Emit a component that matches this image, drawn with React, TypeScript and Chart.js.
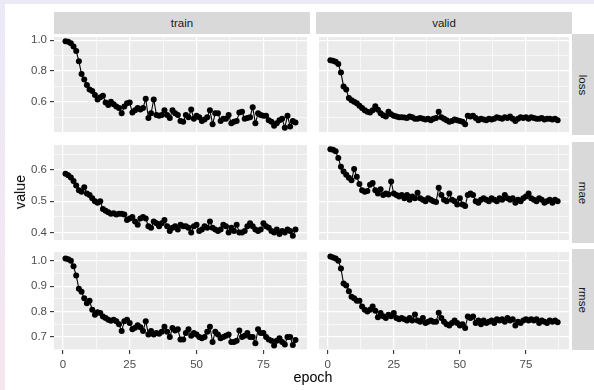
import React, { useEffect, useRef } from "react";
import { Chart, registerables } from "chart.js";
Chart.register(...registerables);

const epochs = [
  1, 2, 3, 4, 5, 6, 7, 8, 9, 10, 11, 12, 13, 14, 15, 16, 17, 18, 19, 20,
  21, 22, 23, 24, 25, 26, 27, 28, 29, 30, 31, 32, 33, 34, 35, 36, 37, 38, 39, 40,
  41, 42, 43, 44, 45, 46, 47, 48, 49, 50, 51, 52, 53, 54, 55, 56, 57, 58, 59, 60,
  61, 62, 63, 64, 65, 66, 67, 68, 69, 70, 71, 72, 73, 74, 75, 76, 77, 78, 79, 80,
  81, 82, 83, 84, 85, 86, 87,
];

const sets = ["train", "valid"];
const metrics = ["loss", "mae", "rmse"];

const trainLoss = [
  0.993, 0.99, 0.98, 0.96, 0.93, 0.864, 0.78, 0.745, 0.71, 0.68, 0.67, 0.645, 0.615, 0.63, 0.64, 0.595, 0.58, 0.6, 0.585, 0.57,
  0.56, 0.525, 0.57, 0.59, 0.595, 0.53, 0.545, 0.56, 0.55, 0.56, 0.62, 0.495, 0.525, 0.615, 0.515, 0.51, 0.515, 0.545, 0.515, 0.495,
  0.545, 0.525, 0.515, 0.475, 0.47, 0.515, 0.5, 0.55, 0.49, 0.51, 0.5, 0.475, 0.485, 0.5, 0.545, 0.455, 0.525, 0.525, 0.475, 0.49,
  0.49, 0.515, 0.46, 0.47, 0.475, 0.53, 0.535, 0.49, 0.495, 0.5, 0.565, 0.46, 0.525, 0.515, 0.51, 0.51, 0.48, 0.47, 0.445, 0.46,
  0.48, 0.49, 0.432, 0.51, 0.44, 0.475, 0.465,
];
const validLoss = [
  0.87, 0.867, 0.86, 0.845, 0.79, 0.7, 0.68, 0.625, 0.61, 0.6, 0.59, 0.575, 0.56, 0.545, 0.535, 0.53, 0.545, 0.572, 0.548, 0.525,
  0.512, 0.505, 0.535, 0.52, 0.51, 0.505, 0.5, 0.5, 0.498, 0.495, 0.505, 0.5, 0.49, 0.49, 0.495, 0.49, 0.485, 0.49, 0.48, 0.49,
  0.495, 0.535, 0.5, 0.49, 0.48, 0.47, 0.475, 0.485, 0.48, 0.475, 0.47, 0.455, 0.51, 0.505, 0.51, 0.495, 0.48, 0.49, 0.485, 0.48,
  0.49, 0.485, 0.49, 0.5, 0.495, 0.49, 0.5, 0.495, 0.505, 0.49, 0.475, 0.49, 0.5, 0.495, 0.5, 0.49, 0.5, 0.495, 0.49, 0.49,
  0.495, 0.485, 0.49, 0.49, 0.485, 0.49, 0.48,
];
const trainMae = [
  0.588, 0.583, 0.576, 0.565, 0.55, 0.535, 0.53, 0.545, 0.525, 0.52, 0.51, 0.5, 0.495, 0.5, 0.475, 0.47, 0.465, 0.46, 0.462, 0.458,
  0.46, 0.46, 0.458, 0.44, 0.445, 0.45, 0.435, 0.425, 0.445, 0.45, 0.445, 0.42, 0.415, 0.435, 0.43, 0.42, 0.43, 0.44, 0.42, 0.405,
  0.415, 0.42, 0.41, 0.425, 0.42, 0.42, 0.415, 0.4, 0.42, 0.425, 0.405, 0.41, 0.42, 0.415, 0.435, 0.415, 0.41, 0.405, 0.41, 0.425,
  0.42, 0.4, 0.415, 0.405, 0.425, 0.4, 0.4, 0.405, 0.42, 0.43, 0.42, 0.41, 0.405, 0.41, 0.43, 0.42, 0.415, 0.405, 0.4, 0.41,
  0.395, 0.405, 0.4, 0.41, 0.405, 0.39, 0.41,
];
const validMae = [
  0.666, 0.665, 0.66, 0.638, 0.61, 0.595, 0.585, 0.575, 0.567, 0.603, 0.578, 0.555, 0.535, 0.53, 0.533, 0.553, 0.558, 0.535, 0.525, 0.538,
  0.52, 0.525, 0.522, 0.563, 0.525, 0.52, 0.515, 0.52, 0.51, 0.52, 0.505, 0.515, 0.51, 0.527, 0.51, 0.505, 0.5, 0.51, 0.505, 0.5,
  0.498, 0.543, 0.52, 0.505, 0.5, 0.525, 0.505, 0.5, 0.49, 0.51, 0.49, 0.485, 0.52, 0.525, 0.52, 0.5, 0.495, 0.505, 0.51, 0.505,
  0.5, 0.51, 0.505, 0.5, 0.51, 0.505, 0.52, 0.51, 0.505, 0.51, 0.495, 0.505, 0.5, 0.51, 0.515, 0.525, 0.51, 0.505, 0.5, 0.51,
  0.505, 0.495, 0.5, 0.505, 0.495, 0.505, 0.5,
];
const trainRmse = [
  1.009, 1.006, 1.0, 0.978, 0.942, 0.89, 0.878, 0.852, 0.833, 0.842, 0.807, 0.787, 0.797, 0.794, 0.78, 0.775, 0.768, 0.764, 0.768, 0.762,
  0.75, 0.723, 0.762, 0.768, 0.755, 0.73, 0.736, 0.746, 0.738, 0.723, 0.762, 0.71, 0.723, 0.71, 0.715, 0.712, 0.72, 0.74, 0.72, 0.7,
  0.735, 0.725, 0.73, 0.69, 0.69, 0.715, 0.73, 0.705, 0.715, 0.71, 0.7, 0.695, 0.7, 0.72, 0.74, 0.68, 0.72, 0.71, 0.695, 0.7,
  0.705, 0.71, 0.68, 0.68, 0.685, 0.725, 0.7, 0.705, 0.715, 0.7, 0.7, 0.675, 0.73, 0.715, 0.715, 0.7, 0.69, 0.685, 0.666, 0.685,
  0.695, 0.68, 0.67, 0.7, 0.7, 0.668, 0.688,
];
const validRmse = [
  1.017, 1.013, 1.009, 1.0, 0.97, 0.91, 0.903, 0.88, 0.858, 0.852, 0.842, 0.842, 0.82, 0.807, 0.8, 0.807, 0.82, 0.803, 0.777, 0.794,
  0.781, 0.775, 0.787, 0.781, 0.794, 0.775, 0.77, 0.775, 0.77, 0.765, 0.775, 0.765, 0.788, 0.765, 0.76, 0.775, 0.755, 0.76, 0.765, 0.76,
  0.76, 0.795, 0.775, 0.76, 0.75, 0.745, 0.755, 0.765, 0.755, 0.745, 0.75, 0.735, 0.78, 0.775, 0.78, 0.755, 0.765, 0.75, 0.765, 0.755,
  0.76, 0.765, 0.755, 0.77, 0.765, 0.77, 0.76, 0.775, 0.765, 0.77, 0.745, 0.76, 0.755, 0.765, 0.77, 0.765, 0.77, 0.765, 0.77, 0.755,
  0.765, 0.76, 0.755, 0.765, 0.76, 0.765, 0.758,
];

const xMajorTicks = [0, 25, 50, 75];
const xMinorTicks = [12.5, 37.5, 62.5, 87.5];
const yMajorTicks = [
  [0.6, 0.8, 1.0],
  [0.4, 0.5, 0.6],
  [0.7, 0.8, 0.9, 1.0],
];
const yMinorTicks = [
  [0.5, 0.7, 0.9],
  [0.45, 0.55, 0.65],
  [0.65, 0.75, 0.85, 0.95],
];

const seriesGrid = [
  [trainLoss, validLoss],
  [trainMae, validMae],
  [trainRmse, validRmse],
];

// layout (pixels)
const COL_X = [54, 316];
const ROW_Y = [34, 142, 249];
const PANEL_W = 256;
const PANEL_H = 101;
const LEFT_M = 54;
const BOTTOM_M = 30;
const FONT = "'Liberation Sans', Arial, Helvetica, sans-serif";

function expand(vals: number[]) {
  const lo = Math.min(...vals);
  const hi = Math.max(...vals);
  const d = (hi - lo) * 0.05;
  return [lo - d, hi + d];
}

const panelBg = {
  id: "panelBg",
  beforeDraw(chart: any) {
    const { ctx, chartArea } = chart;
    ctx.save();
    ctx.fillStyle = "#EBEBEB";
    ctx.fillRect(chartArea.left, chartArea.top, chartArea.right - chartArea.left, chartArea.bottom - chartArea.top);
    ctx.restore();
  },
};

function Panel({ r, c }: { r: number; c: number }) {
  const ref = useRef<HTMLCanvasElement | null>(null);
  const left = c === 0;
  const bottom = r === 2;
  const w = PANEL_W + (left ? LEFT_M : 0);
  const h = PANEL_H + (bottom ? BOTTOM_M : 0);

  useEffect(() => {
    const values = seriesGrid[r][c];
    const [xMin, xMax] = expand(epochs);
    const [yMin, yMax] = expand([...seriesGrid[r][0], ...seriesGrid[r][1]]);
    const yMaj = yMajorTicks[r];
    const yAll = [...yMaj, ...yMinorTicks[r]].filter((v) => v >= yMin && v <= yMax).sort((a, b) => a - b);
    const xAll = [...xMajorTicks, ...xMinorTicks].filter((v) => v >= xMin && v <= xMax).sort((a, b) => a - b);
    const isMajX = (v: number) => xMajorTicks.includes(v);
    const isMajY = (v: number) => yMaj.some((m) => Math.abs(m - v) < 1e-9);

    const chart = new Chart(ref.current as HTMLCanvasElement, {
      type: "line",
      data: {
        datasets: [
          {
            data: epochs.map((e, i) => ({ x: e, y: values[i] })),
            borderColor: "#000000",
            backgroundColor: "#000000",
            borderWidth: 1.1,
            pointRadius: 3,
            pointBorderWidth: 0,
            pointHoverRadius: 0,
            tension: 0,
            clip: false as any,
          },
        ],
      },
      options: {
        animation: false,
        responsive: false,
        maintainAspectRatio: false,
        events: [],
        layout: { padding: 0 },
        plugins: { legend: { display: false }, tooltip: { enabled: false } },
        scales: {
          x: {
            type: "linear",
            position: "bottom",
            min: xMin,
            max: xMax,
            bounds: "data",
            afterBuildTicks: (s: any) => {
              s.ticks = xAll.map((v) => ({ value: v }));
            },
            afterFit: (s: any) => {
              s.height = bottom ? BOTTOM_M : 0;
              s.paddingLeft = 0;
              s.paddingRight = 0;
              s.paddingTop = 0;
              s.paddingBottom = 0;
            },
            border: { display: false },
            grid: {
              color: "#FFFFFF",
              lineWidth: (ctx: any) => (isMajX(ctx.tick.value) ? 1.2 : 0.6),
              drawTicks: bottom,
              tickLength: 4,
              tickWidth: 1.1,
              tickColor: (ctx: any) => (isMajX(ctx.tick.value) ? "#333333" : "rgba(0,0,0,0)"),
            },
            ticks: {
              display: bottom,
              autoSkip: false,
              maxRotation: 0,
              padding: 4,
              color: "#4D4D4D",
              font: { family: FONT, size: 11.5 },
              callback: (v: any) => (isMajX(Number(v)) ? String(v) : ""),
            },
          },
          y: {
            type: "linear",
            position: "left",
            min: yMin,
            max: yMax,
            bounds: "data",
            afterBuildTicks: (s: any) => {
              s.ticks = yAll.map((v) => ({ value: v }));
            },
            afterFit: (s: any) => {
              s.width = left ? LEFT_M : 0;
              s.paddingLeft = 0;
              s.paddingRight = 0;
              s.paddingTop = 0;
              s.paddingBottom = 0;
            },
            border: { display: false },
            grid: {
              color: "#FFFFFF",
              lineWidth: (ctx: any) => (isMajY(ctx.tick.value) ? 1.2 : 0.6),
              drawTicks: left,
              tickLength: 4,
              tickWidth: 1.1,
              tickColor: (ctx: any) => (isMajY(ctx.tick.value) ? "#333333" : "rgba(0,0,0,0)"),
            },
            ticks: {
              display: left,
              autoSkip: false,
              padding: 3,
              color: "#4D4D4D",
              font: { family: FONT, size: 11.5 },
              callback: (v: any) => (isMajY(Number(v)) ? Number(v).toFixed(1) : ""),
            },
          },
        },
      } as any,
      plugins: [panelBg],
    });
    return () => chart.destroy();
  }, [r, c]);

  return (
    <canvas
      ref={ref}
      width={w}
      height={h}
      style={{
        position: "absolute",
        left: COL_X[c] - (left ? LEFT_M : 0),
        top: ROW_Y[r],
        width: w,
        height: h,
        display: "block",
      }}
    />
  );
}

export default function App() {
  const stripFont: React.CSSProperties = {
    position: "absolute",
    background: "#D9D9D9",
    color: "#1A1A1A",
    fontFamily: FONT,
    fontSize: 11.5,
    display: "flex",
    alignItems: "center",
    justifyContent: "center",
    overflow: "hidden",
  };
  return (
    <div style={{ position: "relative", width: 594, height: 390, overflow: "hidden" }}>
      <style>{`html,body{margin:0;padding:0;} body{background:linear-gradient(180deg,#ECE9F7 0%,#F0E8F4 50%,#F6E6EE 100%);}`}</style>
      <div style={{ position: "absolute", left: 5, top: 4, width: 589, height: 386, background: "#FFFFFF" }} />
      {sets.map((s, c) => (
        <div key={s} style={{ ...stripFont, left: COL_X[c], top: 12, width: PANEL_W, height: 22 }}>
          {s}
        </div>
      ))}
      {metrics.map((m, r) => (
        <div key={m} style={{ ...stripFont, left: COL_X[1] + PANEL_W, top: ROW_Y[r], width: 22, height: PANEL_H }}>
          <span style={{ display: "inline-block", transform: "rotate(90deg)", whiteSpace: "nowrap" }}>{m}</span>
        </div>
      ))}
      {metrics.map((m, r) =>
        sets.map((s, c) => <Panel key={m + s} r={r} c={c} />)
      )}
      <div
        style={{
          position: "absolute",
          left: 20,
          top: 192,
          transform: "translate(-50%,-50%) rotate(-90deg)",
          fontFamily: FONT,
          fontSize: 14.3,
          color: "#000000",
          whiteSpace: "nowrap",
        }}
      >
        value
      </div>
      <div
        style={{
          position: "absolute",
          left: 313,
          top: 377,
          transform: "translate(-50%,-50%)",
          fontFamily: FONT,
          fontSize: 14.3,
          color: "#000000",
          whiteSpace: "nowrap",
        }}
      >
        epoch
      </div>
    </div>
  );
}
